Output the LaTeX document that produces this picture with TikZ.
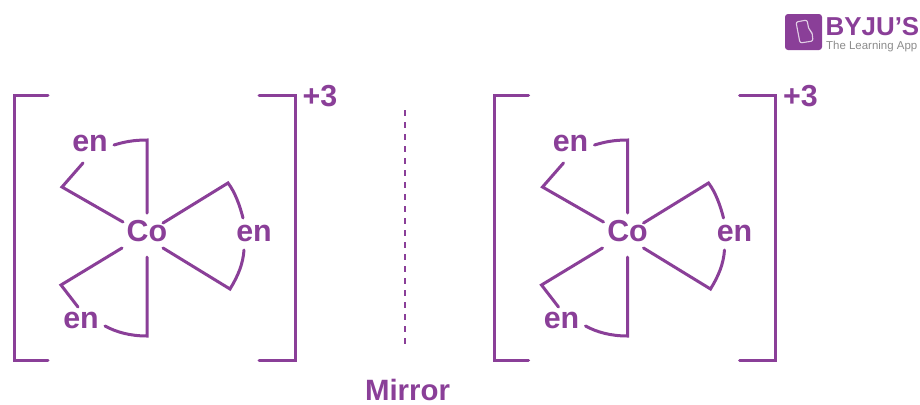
\documentclass[tikz,border=0pt]{standalone}
\usepackage{fontspec}
\setmainfont{Liberation Sans}
\definecolor{pur}{HTML}{8A3F98}
\definecolor{logogray}{HTML}{8C8C8C}
\tikzset{
  x=1bp,y=-1bp,
  bond/.style={draw=pur,line width=3bp,line join=miter,line cap=round},
  lab/.style={text=pur,font=\fontsize{30.5}{30.5}\selectfont\bfseries,inner sep=0pt,anchor=center},
  complex/.pic={
    \node[lab] (co) at (147,231) {Co};
    \node[lab] (top) at (90,143) {en};
    \node[lab] (right) at (254,233) {en};
    \node[lab] (bot) at (81,320) {en};
    \node[lab] (charge) at (320,96) {+3};
    \coordinate (t1) at (147,140);
    \coordinate (t2) at (62,187);
    \coordinate (r1) at (228,183);
    \coordinate (r2) at (230,289);
    \coordinate (b1) at (61,285);
    \coordinate (b2) at (147,336);
    \coordinate (la) at (48,95.5);
    \coordinate (lb) at (14,95.5);
    \coordinate (lc) at (14,360);
    \coordinate (ld) at (48,360);
    \coordinate (ra) at (259,95.5);
    \coordinate (rb) at (295,95.5);
    \coordinate (rc) at (295,360);
    \coordinate (rd) at (259,360);
    \draw[bond] (la) -- (lb) -- (lc) -- (ld);
    \draw[bond] (ra) -- (rb) -- (rc) -- (rd);
    \draw[bond] (147,213) -- (t1) .. controls (133,140) and (124,142) .. (114,145);
    \draw[bond] (123,222) -- (t2) -- (83,163);
    \draw[bond] (163,223) -- (r1) .. controls (235,192) and (240,206) .. (243,218);
    \draw[bond] (163,248) -- (r2) .. controls (238,276) and (243,264) .. (244,250);
    \draw[bond] (122,248) -- (b1) -- (78,307);
    \draw[bond] (147,257) -- (b2) .. controls (130,336) and (116,332) .. (105,326);
  }
}
\begin{document}
\begin{tikzpicture}
\useasboundingbox (0,0) rectangle (920,404);
\fill[white] (0,0) rectangle (920,404);
\pic (A) at (0,0) {complex};
\pic (B) at (480.5,0) {complex};
\coordinate (m1) at (405,110);
\coordinate (m2) at (405,345);
\draw[draw=pur,line width=2.2bp,dash pattern=on 6bp off 6bp] (m1) -- (m2);
\node[text=pur,font=\fontsize{29.5}{29.5}\selectfont\bfseries,inner sep=0pt] (mirror) at (407.5,389.5) {Mirror};
\fill[pur,rounded corners=3bp] (785,14) rectangle (822,50);
\draw[white,opacity=.75,line width=1.1bp,rounded corners=2bp] (796,22) -- (807,20) -- (809,30) -- (812,32) -- (813,41) -- (800,43) -- cycle;
\node[text=pur,font=\fontsize{26}{26}\selectfont\bfseries,inner sep=0pt,anchor=west] (brand) at (825.5,27) {BYJU'S};
\node[text=logogray,font=\fontsize{11.5}{12}\selectfont,inner sep=0pt,anchor=west] (tag) at (826,47) {The Learning App};
\end{tikzpicture}
\end{document}
